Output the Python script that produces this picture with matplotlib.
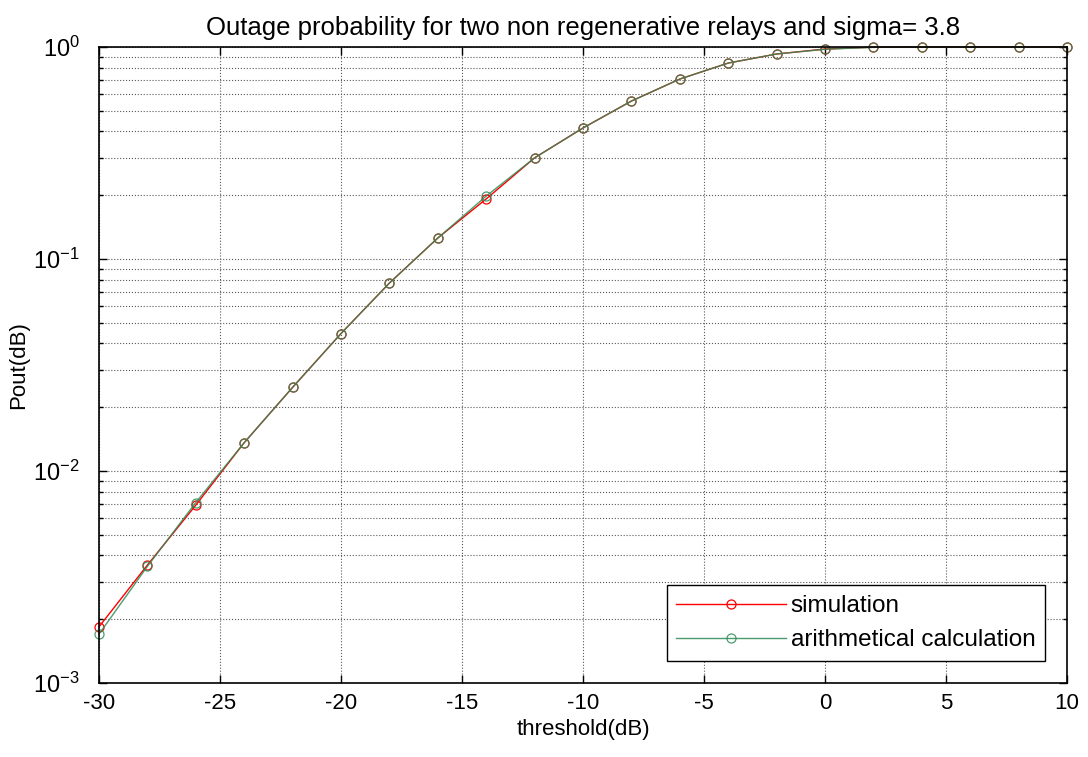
import numpy as np
import matplotlib.pyplot as plt
from matplotlib.ticker import LogLocator, NullFormatter, FuncFormatter

plt.rcParams['font.family'] = ['Liberation Sans', 'DejaVu Sans']
plt.rcParams['axes.unicode_minus'] = False
plt.rcParams['mathtext.fontset'] = 'custom'
plt.rcParams['mathtext.rm'] = 'Liberation Sans'
plt.rcParams['mathtext.it'] = 'Liberation Sans'

threshold = np.arange(-30, 11, 2)
sim = [1.84e-3, 3.6e-3, 6.9e-3, 1.36e-2, 2.48e-2, 4.45e-2, 7.7e-2, 0.1256, 0.192, 0.30,
       0.415, 0.556, 0.706, 0.84, 0.927, 0.978, 0.999, 1.0, 1.0, 1.0, 1.0]
calc = [1.70e-3, 3.55e-3, 7.1e-3, 1.36e-2, 2.48e-2, 4.45e-2, 7.7e-2, 0.1256, 0.198, 0.30,
        0.415, 0.556, 0.706, 0.84, 0.927, 0.976, 0.996, 1.0, 1.0, 1.0, 1.0]

fig = plt.figure(figsize=(10.88, 7.57), dpi=100)
ax = fig.add_axes([0.091, 0.0978, 0.8897, 0.8401])

ax.semilogy(threshold, sim, color='red', marker='o', mfc='none', ms=6.5, lw=1, mew=0.9,
            label='simulation', clip_on=False)
ax.semilogy(threshold, calc, color='#2e8b57', marker='o', mfc='none', ms=6.5, lw=1, mew=0.9,
            alpha=0.85, label='arithmetical calculation', clip_on=False)

ax.set_xlim(-30, 10)
ax.set_ylim(1e-3, 1)
ax.set_xticks(np.arange(-30, 11, 5))
ax.yaxis.set_major_formatter(FuncFormatter(lambda v, p: r'$10^{%d}$' % round(np.log10(v))))
ax.yaxis.set_minor_locator(LogLocator(base=10, subs=np.arange(2, 10)))
ax.yaxis.set_minor_formatter(NullFormatter())

ax.grid(True, which='major', linestyle=':', color='0.35', lw=0.8)
ax.grid(True, which='minor', axis='y', linestyle=':', color='0.35', lw=0.8)
ax.tick_params(which='both', direction='in', top=True, right=True, labelsize=16)
ax.tick_params(axis='y', pad=14, labelsize=17)
ax.tick_params(axis='x', pad=7)
ax.tick_params(which='major', length=6, width=1)
ax.tick_params(which='minor', length=3, width=1)
for s in ax.spines.values():
    s.set_linewidth(1.2)

ax.set_title('Outage probability for two non regenerative relays and sigma= 3.8', fontsize=18.5, pad=9)
ax.set_xlabel('threshold(dB)', fontsize=16, labelpad=4)
ax.set_ylabel('Pout(dB)', fontsize=16, labelpad=3)

leg = ax.legend(loc='lower right', fontsize=17.5, fancybox=False, framealpha=1,
                edgecolor='black', handlelength=4.5, borderaxespad=0.9, handletextpad=0.2,
                labelspacing=0.5)
leg.get_frame().set_linewidth(1)

plt.savefig('out.png')
